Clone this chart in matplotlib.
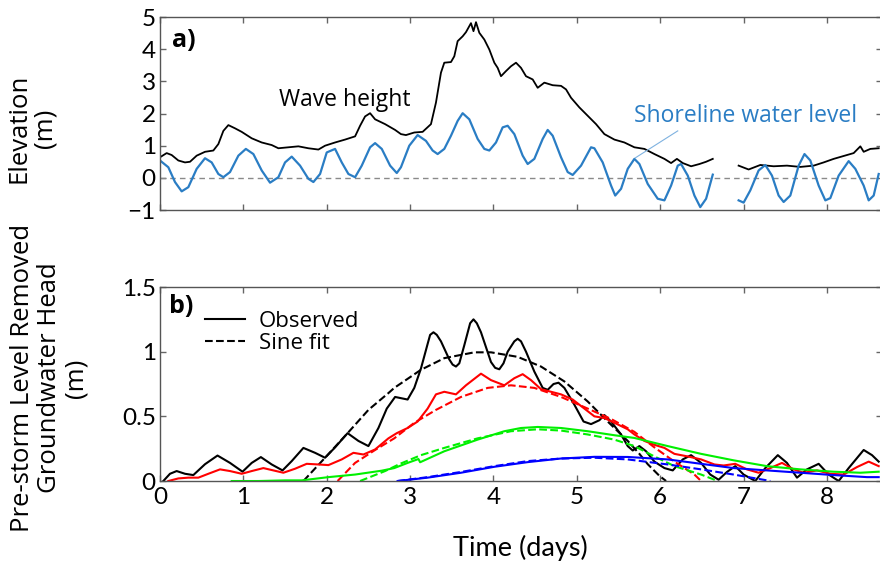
import numpy as np
import matplotlib.pyplot as plt

plt.rcParams['font.family'] = ['Open Sans', 'DejaVu Sans']

nan = np.nan

# panel a) -- columns: time (days), elevation (m)
wave_height = np.array([
    [0.00, 0.64], [0.08, 0.77], [0.14, 0.71], [0.22, 0.54], [0.30, 0.48], [0.36, 0.50],
    [0.44, 0.69], [0.54, 0.81], [0.64, 0.85], [0.70, 1.05], [0.76, 1.46], [0.82, 1.64],
    [0.90, 1.54], [0.98, 1.43], [1.10, 1.23], [1.22, 1.10], [1.34, 1.02], [1.42, 0.92],
    [1.54, 0.95], [1.66, 0.98], [1.78, 0.92], [1.90, 0.88], [1.98, 1.00], [2.10, 1.10],
    [2.22, 1.19], [2.34, 1.29], [2.40, 1.62], [2.46, 1.91], [2.52, 2.01], [2.58, 1.82],
    [2.70, 1.67], [2.82, 1.49], [2.89, 1.36], [2.95, 1.33], [3.05, 1.41], [3.15, 1.43],
    [3.25, 1.67], [3.31, 2.34], [3.37, 3.27], [3.41, 3.58], [3.49, 3.60], [3.53, 3.78],
    [3.57, 4.25], [3.63, 4.40], [3.67, 4.53], [3.73, 4.81], [3.76, 4.56], [3.79, 4.84],
    [3.83, 4.51], [3.89, 4.30], [3.95, 3.99], [4.01, 3.58], [4.05, 3.42], [4.09, 3.16],
    [4.15, 3.32], [4.21, 3.47], [4.27, 3.58], [4.33, 3.42], [4.39, 3.16], [4.47, 3.06],
    [4.53, 2.80], [4.61, 2.96], [4.71, 2.88], [4.81, 2.86], [4.87, 2.75], [4.93, 2.49],
    [5.03, 2.19], [5.13, 1.93], [5.23, 1.67], [5.33, 1.36], [5.45, 1.19], [5.57, 1.10],
    [5.69, 0.95], [5.81, 0.90], [5.93, 0.74], [6.05, 0.59], [6.13, 0.46], [6.20, 0.59],
    [6.27, 0.46], [6.37, 0.36], [6.47, 0.43], [6.55, 0.50], [6.63, 0.59], [nan, nan],
    [6.94, 0.38], [7.06, 0.26], [7.20, 0.40], [7.36, 0.36], [7.52, 0.38], [7.68, 0.34],
    [7.84, 0.38], [7.96, 0.48], [8.08, 0.59], [8.24, 0.71], [8.32, 0.77], [8.40, 0.98],
    [8.44, 0.81], [8.52, 0.90], [8.62, 0.92]])

shore_level = np.array([
    [0.00, 0.54], [0.10, 0.33], [0.18, -0.13], [0.26, -0.42], [0.34, -0.29], [0.44, 0.28],
    [0.54, 0.61], [0.62, 0.48], [0.70, 0.12], [0.76, 0.02], [0.84, 0.18], [0.94, 0.69],
    [1.03, 0.90], [1.12, 0.74], [1.22, 0.23], [1.32, -0.15], [1.42, 0.02], [1.50, 0.48],
    [1.58, 0.66], [1.68, 0.38], [1.78, -0.03], [1.84, -0.13], [1.92, 0.12], [2.00, 0.79],
    [2.10, 0.90], [2.18, 0.48], [2.26, 0.12], [2.34, 0.02], [2.42, 0.38], [2.52, 0.95],
    [2.58, 1.08], [2.66, 0.90], [2.76, 0.38], [2.84, 0.15], [2.89, 0.33], [2.99, 1.00],
    [3.09, 1.33], [3.19, 1.15], [3.27, 0.85], [3.33, 0.74], [3.41, 0.90], [3.49, 1.31],
    [3.57, 1.77], [3.63, 2.01], [3.71, 1.82], [3.81, 1.21], [3.89, 0.90], [3.95, 0.85],
    [4.03, 1.10], [4.11, 1.57], [4.17, 1.62], [4.25, 1.36], [4.35, 0.69], [4.41, 0.43],
    [4.49, 0.59], [4.59, 1.21], [4.65, 1.49], [4.71, 1.31], [4.81, 0.64], [4.89, 0.18],
    [4.95, 0.09], [5.05, 0.38], [5.17, 0.95], [5.21, 0.92], [5.31, 0.48], [5.41, -0.24],
    [5.46, -0.55], [5.53, -0.34], [5.61, 0.28], [5.69, 0.59], [5.75, 0.43], [5.85, -0.19],
    [5.97, -0.65], [6.05, -0.70], [6.13, -0.24], [6.21, 0.38], [6.25, 0.43], [6.33, 0.07],
    [6.41, -0.55], [6.48, -0.91], [6.55, -0.65], [6.63, 0.10], [nan, nan],
    [6.94, -0.70], [7.00, -0.77], [7.08, -0.39], [7.18, 0.23], [7.26, 0.40], [7.34, 0.07],
    [7.42, -0.55], [7.48, -0.75], [7.56, -0.55], [7.66, 0.38], [7.73, 0.74], [7.80, 0.54],
    [7.90, -0.24], [7.98, -0.70], [8.04, -0.63], [8.14, 0.07], [8.26, 0.52], [8.34, 0.28],
    [8.44, -0.24], [8.50, -0.70], [8.56, -0.55], [8.62, 0.12]])

# panel b) -- columns: time (days), head (m)
obs_black = np.array([
    [0.04, 0.0], [0.12, 0.056], [0.20, 0.077], [0.30, 0.056], [0.40, 0.046], [0.54, 0.13],
    [0.69, 0.197], [0.84, 0.14], [0.99, 0.072], [1.10, 0.14], [1.21, 0.185], [1.34, 0.128],
    [1.47, 0.082], [1.58, 0.154], [1.72, 0.256], [1.86, 0.218], [1.98, 0.18], [2.10, 0.26],
    [2.25, 0.37], [2.38, 0.31], [2.50, 0.27], [2.62, 0.41], [2.72, 0.56], [2.82, 0.65],
    [2.97, 0.63], [3.05, 0.72], [3.13, 0.87], [3.21, 1.06], [3.24, 1.13], [3.28, 1.15],
    [3.32, 1.13], [3.37, 1.08], [3.47, 0.94], [3.51, 0.90], [3.55, 0.885], [3.59, 0.91],
    [3.65, 1.05], [3.72, 1.22], [3.76, 1.25], [3.80, 1.22], [3.85, 1.15], [3.97, 0.92],
    [4.02, 0.875], [4.07, 0.864], [4.12, 0.91], [4.17, 1.0], [4.25, 1.08], [4.29, 1.10],
    [4.33, 1.08], [4.39, 1.0], [4.49, 0.846], [4.59, 0.72], [4.65, 0.705], [4.72, 0.75],
    [4.78, 0.76], [4.85, 0.72], [4.97, 0.59], [5.08, 0.46], [5.17, 0.44], [5.27, 0.47],
    [5.33, 0.51], [5.41, 0.46], [5.53, 0.36], [5.61, 0.27], [5.67, 0.236], [5.75, 0.27],
    [5.83, 0.23], [5.93, 0.15], [6.05, 0.10], [6.15, 0.082], [6.27, 0.167], [6.37, 0.20],
    [6.49, 0.14], [6.60, 0.05], [6.70, 0.01], [6.80, 0.07], [6.90, 0.115], [7.00, 0.05],
    [7.14, 0.0], [7.26, 0.10], [7.41, 0.20], [7.52, 0.14], [7.64, 0.026], [7.76, 0.09],
    [7.90, 0.133], [8.02, 0.05], [8.14, 0.0], [8.26, 0.10], [8.44, 0.24], [8.54, 0.20],
    [8.62, 0.15]])

obs_red = np.array([
    [0.10, 0.0], [0.22, 0.02], [0.34, 0.026], [0.46, 0.026], [0.58, 0.056], [0.72, 0.09],
    [0.84, 0.077], [0.98, 0.056], [1.10, 0.077], [1.24, 0.10], [1.36, 0.082], [1.48, 0.064],
    [1.62, 0.095], [1.76, 0.133], [1.90, 0.128], [2.02, 0.123], [2.18, 0.167], [2.32, 0.218],
    [2.44, 0.205], [2.58, 0.244], [2.74, 0.33], [2.84, 0.37], [2.97, 0.41], [3.09, 0.46],
    [3.21, 0.56], [3.31, 0.67], [3.41, 0.69], [3.55, 0.67], [3.67, 0.74], [3.85, 0.83],
    [3.97, 0.78], [4.13, 0.74], [4.25, 0.795], [4.35, 0.826], [4.45, 0.78], [4.57, 0.71],
    [4.69, 0.69], [4.81, 0.67], [4.95, 0.63], [5.09, 0.56], [5.21, 0.50], [5.33, 0.487],
    [5.45, 0.45], [5.61, 0.40], [5.69, 0.36], [5.81, 0.31], [5.93, 0.28], [6.05, 0.256],
    [6.17, 0.21], [6.33, 0.19], [6.49, 0.167], [6.65, 0.128], [6.76, 0.12], [6.90, 0.133],
    [7.04, 0.09], [7.18, 0.064], [7.32, 0.10], [7.46, 0.14], [7.60, 0.09], [7.72, 0.064],
    [7.88, 0.082], [8.04, 0.056], [8.20, 0.05], [8.36, 0.108], [8.50, 0.15], [8.62, 0.115]])

obs_green = np.array([
    [0.86, 0.0], [1.18, 0.0], [1.50, 0.005], [1.70, 0.005], [2.02, 0.03], [2.34, 0.05],
    [2.66, 0.08], [2.81, 0.10], [2.97, 0.14], [3.10, 0.17], [3.12, 0.145], [3.41, 0.23],
    [3.81, 0.32], [4.13, 0.385], [4.33, 0.41], [4.53, 0.418], [4.81, 0.41], [5.13, 0.385],
    [5.45, 0.354], [5.69, 0.333], [6.09, 0.27], [6.49, 0.21], [6.88, 0.16], [7.28, 0.115],
    [7.68, 0.09], [8.08, 0.072], [8.40, 0.064], [8.62, 0.072]])

obs_blue = np.array([
    [2.85, 0.0], [3.21, 0.026], [3.61, 0.064], [4.01, 0.11], [4.41, 0.146], [4.81, 0.174],
    [5.21, 0.187], [5.61, 0.186], [6.09, 0.167], [6.49, 0.133], [6.88, 0.10], [7.28, 0.082],
    [7.68, 0.064], [8.08, 0.046], [8.48, 0.03], [8.62, 0.03]])

fit_black = np.array([
    [1.72, 0.0], [1.98, 0.18], [2.25, 0.37], [2.50, 0.55], [2.74, 0.68], [2.81, 0.72],
    [3.13, 0.86], [3.41, 0.95], [3.77, 0.995], [3.97, 0.995], [4.29, 0.96], [4.57, 0.885],
    [4.85, 0.77], [5.13, 0.615], [5.37, 0.46], [5.61, 0.31], [5.75, 0.21], [5.85, 0.13],
    [5.99, 0.04], [6.07, 0.0]])

fit_red = np.array([
    [2.13, 0.0], [2.34, 0.14], [2.58, 0.24], [2.81, 0.33], [3.05, 0.45], [3.31, 0.55],
    [3.61, 0.65], [3.93, 0.72], [4.21, 0.74], [4.49, 0.72], [4.81, 0.65], [5.13, 0.56],
    [5.41, 0.48], [5.69, 0.38], [5.93, 0.26], [6.17, 0.15], [6.41, 0.05], [6.49, 0.0]])

fit_green = np.array([
    [2.40, 0.0], [2.70, 0.077], [2.88, 0.133], [3.13, 0.20], [3.41, 0.256], [3.81, 0.33],
    [4.21, 0.385], [4.53, 0.40], [4.81, 0.39], [5.13, 0.36], [5.45, 0.32], [5.69, 0.27],
    [5.93, 0.19], [6.17, 0.115], [6.49, 0.05], [6.69, 0.0]])

fit_blue = np.array([
    [2.85, 0.0], [3.21, 0.03], [3.61, 0.07], [4.01, 0.115], [4.41, 0.154], [4.81, 0.174],
    [5.21, 0.18], [5.61, 0.167], [6.09, 0.128], [6.49, 0.09], [6.88, 0.05], [7.28, 0.005],
    [7.32, 0.0]])

x_ticks = [0, 1, 2, 3, 4, 5, 6, 7, 8]
a_yticks = [-1, 0, 1, 2, 3, 4, 5]
b_yticks = [0, 0.5, 1, 1.5]
b_yticklabels = ['0', '0.5', '1', '1.5']

shore_blue = '#2a7dc4'
tick_font = 'Lato'

fig = plt.figure(figsize=(8.8, 5.62), dpi=100)
ax1 = fig.add_axes([0.1818, 0.6263, 0.8205, 0.3434])
ax2 = fig.add_axes([0.1818, 0.1441, 0.8205, 0.3452])

# ---- a) ----
ax1.axhline(0, color='#8a8a8a', lw=1, ls=(0, (4, 3)))
ax1.plot(wave_height[:, 0], wave_height[:, 1], color='black', lw=1.3)
ax1.plot(shore_level[:, 0], shore_level[:, 1], color=shore_blue, lw=1.6,
         solid_joinstyle='round')
ax1.plot([5.70, 6.21], [0.62, 1.46], color='#7fb2e0', lw=0.8)
ax1.text(2.22, 2.42, 'Wave height', fontsize=16.5, ha='center', va='center')
ax1.text(7.02, 1.92, 'Shoreline water level', fontsize=16.5, color=shore_blue,
         ha='center', va='center')
ax1.text(0.016, 0.88, 'a)', transform=ax1.transAxes, fontsize=18, fontweight='bold',
         va='center')
ax1.set_xlim(0, 8.66)
ax1.set_ylim(-1, 5)
ax1.set_xticks(x_ticks)
ax1.set_xticklabels([])
ax1.set_yticks(a_yticks)

# ---- b) ----
lw_b = 1.5
ax2.plot(obs_black[:, 0], obs_black[:, 1], color='black', lw=lw_b, label='Observed',
         solid_joinstyle='round')
ax2.plot(fit_black[:, 0], fit_black[:, 1], color='black', lw=lw_b, ls='--', label='Sine fit')
ax2.plot(obs_red[:, 0], obs_red[:, 1], color='red', lw=lw_b, solid_joinstyle='round')
ax2.plot(fit_red[:, 0], fit_red[:, 1], color='red', lw=lw_b, ls='--')
ax2.plot(obs_green[:, 0], obs_green[:, 1], color='#00f000', lw=lw_b)
ax2.plot(fit_green[:, 0], fit_green[:, 1], color='#00f000', lw=lw_b, ls='--')
ax2.plot(obs_blue[:, 0], obs_blue[:, 1], color='blue', lw=lw_b)
ax2.plot(fit_blue[:, 0], fit_blue[:, 1], color='blue', lw=lw_b, ls='--')
ax2.legend(loc='upper left', bbox_to_anchor=(0.035, 0.98), frameon=False, fontsize=16,
           handlelength=1.8, handletextpad=0.6, labelspacing=0.05)
ax2.text(0.012, 0.9, 'b)', transform=ax2.transAxes, fontsize=18, fontweight='bold',
         va='center')
ax2.set_xlim(0, 8.66)
ax2.set_ylim(0, 1.5)
ax2.set_xticks(x_ticks)
ax2.set_yticks(b_yticks)
ax2.set_yticklabels(b_yticklabels)

for ax in (ax1, ax2):
    ax.tick_params(direction='in', top=True, right=True, length=4.5, width=1,
                   color='#666666', labelsize=17.5)
    ax.tick_params(axis='y', pad=3)
    ax.tick_params(axis='x', pad=4)
    for lbl in ax.get_xticklabels() + ax.get_yticklabels():
        lbl.set_family(tick_font)
    for sp in ax.spines.values():
        sp.set_color('#555555')
        sp.set_linewidth(1)

fig.text(32 / 880, 1 - 128 / 562, 'Elevation\n(m)', rotation=90, fontsize=18.5,
         ha='center', va='center', multialignment='center', linespacing=1.1)
fig.text(49 / 880, 1 - 378 / 562, 'Pre-storm Level Removed\nGroundwater Head\n(m)',
         rotation=90, fontsize=18.5, ha='center', va='center', multialignment='center',
         linespacing=1.1)
fig.text(520 / 880, 1 - 548 / 562, 'Time (days)', fontsize=19.5, family=tick_font,
         ha='center', va='center')

fig.savefig('out.png', dpi=100)
